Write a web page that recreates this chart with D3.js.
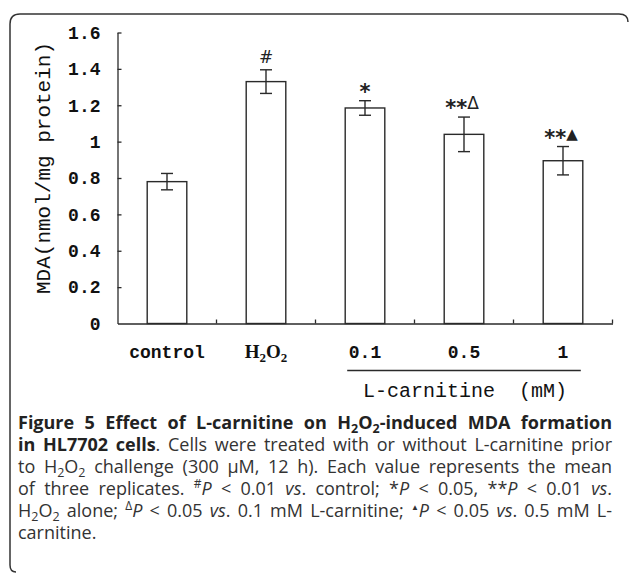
<!DOCTYPE html>
<html>
<head>
<meta charset="utf-8">
<script src="https://cdn.jsdelivr.net/npm/d3@7"></script>
<style>
  html, body { margin: 0; padding: 0; background: #fff; }
  svg { display: block; }
</style>
</head>
<body>
<svg id="chart" width="629" height="575"></svg>
<script>
// ---- data ----
const categories = ["control", "H2O2", "0.1", "0.5", "1"];
const means = [0.78, 1.33, 1.185, 1.04, 0.895];
const errors = [0.045, 0.065, 0.04, 0.095, 0.078];
const marks = ["", "#", "*", "**\u0394", "**\u25B2"];
const yTicks = [0, 0.2, 0.4, 0.6, 0.8, 1, 1.2, 1.4, 1.6];
const yTickLabels = ["0", "0.2", "0.4", "0.6", "0.8", "1", "1.2", "1.4", "1.6"];
const yTitle = "MDA(nmol/mg protein)";
const groupTitle = "L-carnitine  (mM)";

const svg = d3.select("#chart");
const ink = "#2a2a2a";
const monoFont = "'Liberation Mono', 'DejaVu Sans Mono', monospace";
const capFont = "'Open Sans', 'Noto Sans', sans-serif";

// ---- frame (rounded bracket) ----
svg.append("path")
  .attr("d", "M10,565 Q10,572 16,572 M10,565 L10,24 Q10,14 20,14 L619,14 Q628,14 628,22")
  .attr("fill", "none").attr("stroke", "#333").attr("stroke-width", 1.5);

// ---- scales ----
const x = d3.scaleBand().domain(categories).range([117.5, 612.5])
  .paddingInner(0.6).paddingOuter(0.3);
const y = d3.scaleLinear().domain([0, 1.6]).range([323.5, 32.5]);

// ---- y axis ----
const yAxis = d3.axisLeft(y).tickValues(yTicks)
  .tickFormat((d, i) => yTickLabels[i])
  .tickSizeInner(-4).tickSizeOuter(0).tickPadding(17);
const gy = svg.append("g").attr("transform", "translate(117.5,0)").call(yAxis);
gy.select(".domain").attr("stroke", ink).attr("stroke-width", 1.3);
gy.selectAll(".tick line").attr("stroke", ink).attr("stroke-width", 1.3);
gy.selectAll(".tick text").attr("font-family", monoFont).attr("font-weight", "bold")
  .attr("font-size", 18).attr("fill", "#111");
gy.selectAll(".tick").filter(d => d === 0).select("line").remove();

// ---- x axis ----
const xAxis = d3.axisBottom(x).tickSize(0).tickFormat("");
const gx = svg.append("g").attr("transform", "translate(0,323.5)").call(xAxis);
gx.select(".domain").attr("stroke", ink).attr("stroke-width", 1.3);
const step = x.step();
const boundaries = categories.map(c => x(c) - step * x.paddingOuter() + step);
svg.append("g").selectAll("line").data(boundaries).join("line")
  .attr("x1", d => d).attr("x2", d => d)
  .attr("y1", 323.5).attr("y2", 319.5)
  .attr("stroke", ink).attr("stroke-width", 1.3);

// ---- bars ----
const data = categories.map((c, i) => ({ c, m: means[i], e: errors[i], mark: marks[i] }));
svg.append("g").selectAll("rect").data(data).join("rect")
  .attr("x", d => x(d.c)).attr("width", x.bandwidth())
  .attr("y", d => y(d.m)).attr("height", d => y(0) - y(d.m))
  .attr("fill", "#fff").attr("stroke", ink).attr("stroke-width", 1.4);

// ---- error bars ----
const cap = 6;
const eg = svg.append("g").attr("stroke", ink).attr("stroke-width", 1.4);
data.forEach(d => {
  const cx = x(d.c) + x.bandwidth() / 2;
  eg.append("line").attr("x1", cx).attr("x2", cx).attr("y1", y(d.m + d.e)).attr("y2", y(d.m - d.e));
  eg.append("line").attr("x1", cx - cap).attr("x2", cx + cap).attr("y1", y(d.m + d.e)).attr("y2", y(d.m + d.e));
  eg.append("line").attr("x1", cx - cap).attr("x2", cx + cap).attr("y1", y(d.m - d.e)).attr("y2", y(d.m - d.e));
});

// ---- significance marks ----
const mg = svg.append("g").selectAll("text").data(data.filter(d => d.mark)).join("text")
  .attr("x", d => x(d.c) + x.bandwidth() / 2 - (d.mark.length > 1 ? 2 : 0))
  .attr("y", d => y(d.m + d.e) - (d.mark === "#" ? 7 : 8))
  .attr("text-anchor", "middle")
  .attr("font-family", "'DejaVu Sans', sans-serif").attr("font-size", 17)
  .attr("fill", "#222");
mg.each(function (d) {
  const t = d3.select(this);
  let shifted = false;
  for (const ch of d.mark) {
    const s = t.append("tspan").text(ch);
    if (ch === "*") {
      s.attr("font-size", 21).attr("font-weight", "bold");
      if (!shifted) { s.attr("dy", 6); shifted = true; }
    } else {
      if (shifted) { s.attr("dy", -6); shifted = false; }
      if (ch === "\u0394") s.attr("font-size", 17);
      if (ch === "\u25B2") s.attr("font-size", 15);
    }
  }
});

// ---- x labels ----
const xl = svg.append("g").selectAll("text").data(categories).join("text")
  .attr("x", d => x(d) + x.bandwidth() / 2)
  .attr("y", 358)
  .attr("text-anchor", "middle")
  .attr("font-family", monoFont).attr("font-weight", "bold").attr("font-size", 18)
  .attr("fill", "#111");
xl.each(function (d) {
  const t = d3.select(this);
  if (d === "H2O2") {
    t.attr("font-family", "'Liberation Serif', serif").attr("font-size", 19);
    t.append("tspan").text("H");
    t.append("tspan").attr("font-size", 13).attr("dy", 4).text("2");
    t.append("tspan").attr("dy", -4).text("O");
    t.append("tspan").attr("font-size", 13).attr("dy", 4).text("2");
  } else {
    t.text(d);
  }
});

// ---- group line and title ----
svg.append("line")
  .attr("x1", x("0.1") + 2).attr("x2", x("1") + x.bandwidth() - 2)
  .attr("y1", 370.5).attr("y2", 370.5)
  .attr("stroke", ink).attr("stroke-width", 1.3);
svg.append("text")
  .attr("x", (x("0.1") + x("1") + x.bandwidth()) / 2 + 1).attr("y", 397)
  .attr("text-anchor", "middle")
  .attr("font-family", monoFont).attr("font-size", 20).attr("fill", "#111")
  .attr("xml:space", "preserve")
  .text(groupTitle);

// ---- y title ----
svg.append("text")
  .attr("transform", "translate(50,168) rotate(-90)")
  .attr("text-anchor", "middle")
  .attr("font-family", monoFont).attr("font-size", 21).attr("fill", "#111")
  .text(yTitle);

// ---- caption ----
const capX = 18, capW = 594;
const lines = [
  { just: true, parts: [{ t: "Figure 5 Effect of L-carnitine on H", b: 1 }, { t: "2", b: 1, sub: 1 }, { t: "O", b: 1 }, { t: "2", b: 1, sub: 1 }, { t: "-induced MDA formation", b: 1 }] },
  { just: true, parts: [{ t: "in HL7702 cells", b: 1 }, { t: ". Cells were treated with or without L-carnitine prior" }] },
  { just: true, parts: [{ t: "to H" }, { t: "2", sub: 1 }, { t: "O" }, { t: "2", sub: 1 }, { t: " challenge (300 \u03BCM, 12 h). Each value represents the mean" }] },
  { just: true, parts: [{ t: "of three replicates. " }, { t: "#", sup: 1 }, { t: "P", i: 1 }, { t: " < 0.01 " }, { t: "vs", i: 1 }, { t: ". control; *" }, { t: "P", i: 1 }, { t: " < 0.05, **" }, { t: "P", i: 1 }, { t: " < 0.01 " }, { t: "vs", i: 1 }, { t: "." }] },
  { just: true, parts: [{ t: "H" }, { t: "2", sub: 1 }, { t: "O" }, { t: "2", sub: 1 }, { t: " alone; " }, { t: "\u0394", sup: 1 }, { t: "P", i: 1 }, { t: " < 0.05 " }, { t: "vs", i: 1 }, { t: ". 0.1 mM L-carnitine; " }, { t: "\u25B2", sup: 1, tiny: 1 }, { t: "P", i: 1 }, { t: " < 0.05 " }, { t: "vs", i: 1 }, { t: ". 0.5 mM L-" }] },
  { just: false, parts: [{ t: "carnitine." }] }
];
const capG = svg.append("g").attr("font-family", capFont).attr("font-size", 18).attr("fill", "#333");
lines.forEach((ln, li) => {
  const t = capG.append("text").attr("x", capX).attr("y", 429 + li * 22)
    .attr("xml:space", "preserve");
  let shift = 0;
  ln.parts.forEach(p => {
    const s = t.append("tspan").text(p.t);
    if (p.b) s.attr("font-weight", "bold").attr("fill", "#222");
    if (p.i) s.attr("font-style", "italic");
    let target = 0;
    if (p.sub) { s.attr("font-size", 12.5); target = 4; }
    if (p.sup) { s.attr("font-size", p.tiny ? 8 : 12); target = -7; }
    if (target !== shift) { s.attr("dy", target - shift); shift = target; }
  });
  if (ln.just) {
    const w = t.node().getComputedTextLength();
    const nSpaces = ln.parts.map(p => p.t).join("").split(" ").length - 1;
    if (nSpaces > 0) t.attr("word-spacing", (capW - w) / nSpaces);
  }
});
</script>
</body>
</html>
